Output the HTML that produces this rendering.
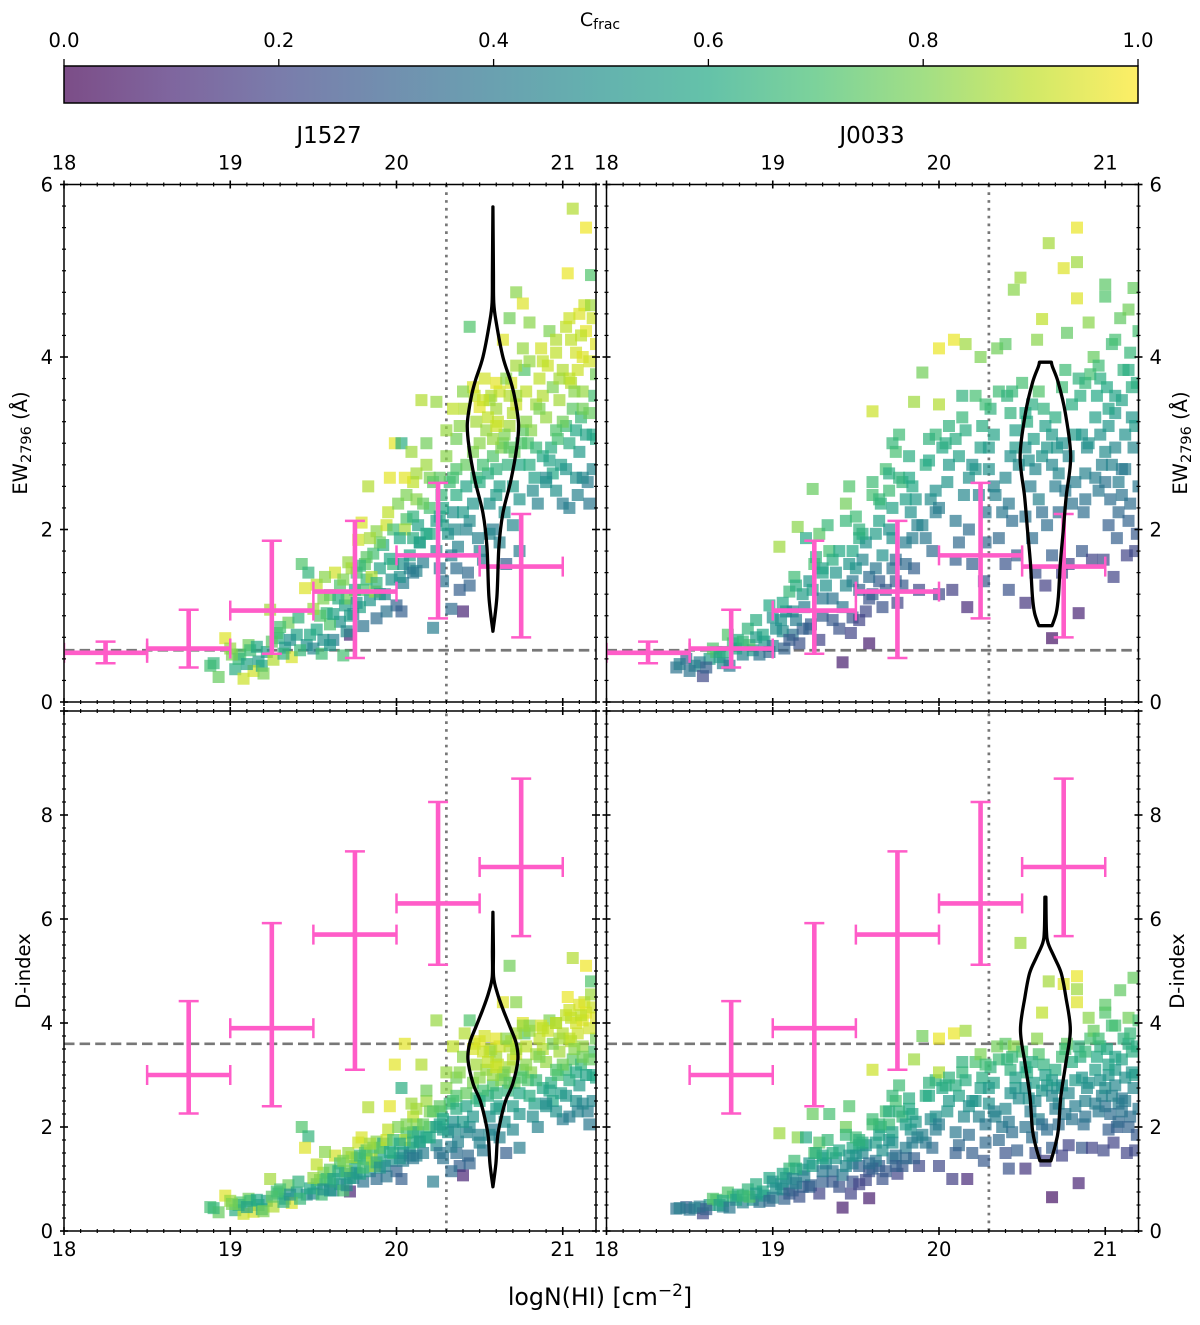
<!DOCTYPE html>
<html lang="en">
<head>
<meta charset="utf-8">
<title>EW and D-index vs logN(HI)</title>
<style>
html,body{margin:0;padding:0;background:#fff;}
svg{display:block;}
text{font-family:"DejaVu Sans","Liberation Sans",sans-serif;fill:#000;}
</style>
</head>
<body>
<svg id="figure" xmlns="http://www.w3.org/2000/svg" width="1200" height="1325" viewBox="0 0 1200 1325">
<defs>
<linearGradient id="viridis-gradient" x1="0" x2="1" y1="0" y2="0">
<stop offset="0" stop-color="#440154" stop-opacity=".7"/>
<stop offset=".1" stop-color="#482475" stop-opacity=".7"/>
<stop offset=".2" stop-color="#414487" stop-opacity=".7"/>
<stop offset=".3" stop-color="#355f8d" stop-opacity=".7"/>
<stop offset=".4" stop-color="#2a788e" stop-opacity=".7"/>
<stop offset=".5" stop-color="#21918c" stop-opacity=".7"/>
<stop offset=".6" stop-color="#22a884" stop-opacity=".7"/>
<stop offset=".7" stop-color="#44bf70" stop-opacity=".7"/>
<stop offset=".8" stop-color="#7ad151" stop-opacity=".7"/>
<stop offset=".9" stop-color="#bddf26" stop-opacity=".7"/>
<stop offset="1" stop-color="#fde725" stop-opacity=".7"/>
</linearGradient>
<clipPath id="clip-left-top"><rect x="64" y="184.5" width="532" height="517.5"/></clipPath>
<clipPath id="clip-right-top"><rect x="606.5" y="184.5" width="532" height="517.5"/></clipPath>
<clipPath id="clip-left-bottom"><rect x="64" y="711" width="532" height="520"/></clipPath>
<clipPath id="clip-right-bottom"><rect x="606.5" y="711" width="532" height="520"/></clipPath>
</defs>
<text x="600" y="26" font-size="19" text-anchor="middle">C<tspan font-size="14" dy="3">frac</tspan></text>
<rect x="64" y="66" width="1074" height="37" fill="url(#viridis-gradient)" stroke="#000" stroke-width="1.5"/>
<g id="colorbar-ticks"></g>
<text x="329" y="143" font-size="23" text-anchor="middle">J1527</text>
<text x="872" y="143" font-size="23" text-anchor="middle">J0033</text>
<g id="panels"></g>
<text x="600" y="1305" font-size="23.7" text-anchor="middle">logN(HI) [cm<tspan font-size="17" dy="-9">−2</tspan><tspan dy="9">]</tspan></text>
<text transform="translate(27,443) rotate(-90)" font-size="19.5" text-anchor="middle">EW<tspan font-size="14.5" dy="4">2796</tspan><tspan dy="-4"> (Å)</tspan></text>
<text transform="translate(30,971) rotate(-90)" font-size="19.5" text-anchor="middle">D-index</text>
<text transform="translate(1187,443) rotate(-90)" font-size="19.5" text-anchor="middle">EW<tspan font-size="14.5" dy="4">2796</tspan><tspan dy="-4"> (Å)</tspan></text>
<text transform="translate(1184,971) rotate(-90)" font-size="19.5" text-anchor="middle">D-index</text>
</svg>
<script>
const colorbarTicks = [0.0, 0.2, 0.4, 0.6, 0.8, 1.0];
const xMajorTicks = [18, 19, 20, 21];
const ewMajorTicks = [0, 2, 4, 6];
const dMajorTicks = [0, 2, 4, 6, 8];
const ewReference = 0.6;
const dReference = 3.6;
const logNReference = 20.3;

const ewBinCenters = [18.25, 18.75, 19.25, 19.75, 20.25, 20.75];
const ewBinValues = [0.57, 0.62, 1.06, 1.28, 1.70, 1.57];
const ewBinUpper = [0.70, 1.07, 1.87, 2.10, 2.54, 2.18];
const ewBinLower = [0.45, 0.40, 0.56, 0.51, 0.97, 0.75];
const dBinCenters = [18.75, 19.25, 19.75, 20.25, 20.75];
const dBinValues = [3.0, 3.9, 5.7, 6.3, 7.0];
const dBinUpper = [4.42, 5.92, 7.3, 8.25, 8.7];
const dBinLower = [2.26, 2.40, 3.1, 5.12, 5.67];
const binHalfWidth = 0.25;

const violinJ1527EwCenter = 20.58;
const violinJ1527EwLevels = [0.82, 1.22, 1.8, 2.19, 2.57, 2.96, 3.23, 3.54, 3.73, 4.0, 4.4, 4.63, 5.0, 5.74];
const violinJ1527EwWidths = [0, 0.024, 0.036, 0.06, 0.108, 0.144, 0.154, 0.13, 0.105, 0.06, 0.02, 0.005, 0.003, 0];
const violinJ1527DCenter = 20.58;
const violinJ1527DLevels = [0.85, 1.3, 1.81, 2.2, 2.52, 2.84, 3.29, 3.61, 3.93, 4.25, 4.57, 4.89, 5.4, 6.13];
const violinJ1527DWidths = [0, 0.018, 0.028, 0.051, 0.078, 0.12, 0.15, 0.14, 0.102, 0.062, 0.027, 0.004, 0.003, 0];
const violinJ0033EwCenter = 20.64;
const violinJ0033EwLevels = [0.885, 1.03, 1.22, 1.61, 2.0, 2.38, 2.85, 3.35, 3.7, 3.89, 3.94];
const violinJ0033EwWidths = [0.04, 0.065, 0.078, 0.09, 0.108, 0.125, 0.152, 0.12, 0.078, 0.042, 0.036];
const violinJ0033DCenter = 20.64;
const violinJ0033DLevels = [1.35, 1.63, 1.95, 2.59, 3.23, 3.87, 4.5, 4.96, 5.27, 5.54, 5.79, 6.42];
const violinJ0033DWidths = [0.033, 0.058, 0.078, 0.093, 0.123, 0.15, 0.123, 0.095, 0.053, 0.016, 0.006, 0.003];

const j1527LogN = [
18.88,19.03,18.93,19.11,18.97,19.17,19.06,18.9,19.14,19.0,
19.22,19.08,19.29,19.19,19.35,19.26,19.12,19.33,19.24,19.4,
19.37,19.46,19.3,19.43,19.52,19.41,19.47,19.45,19.56,19.5,
19.58,19.62,19.52,19.66,19.6,19.55,19.69,19.63,19.57,19.72,
19.75,19.68,19.8,19.71,19.84,19.77,19.66,19.82,19.74,19.88,
19.86,19.79,19.93,19.9,19.83,19.97,19.88,19.81,19.95,20.0,
19.92,20.04,19.96,20.08,20.01,20.12,19.99,20.06,20.14,20.03,
20.03,20.1,20.16,20.05,20.2,20.13,20.24,20.18,20.09,20.28,
20.22,20.31,20.15,20.27,20.36,20.24,20.3,20.38,20.26,20.34,
20.4,20.33,20.42,20.37,20.46,20.32,20.44,20.41,20.48,20.36,
20.44,20.52,20.47,20.56,20.5,20.43,20.58,20.54,20.49,20.6,
20.55,20.62,20.5,20.66,20.6,20.53,20.68,20.64,20.57,20.7,
20.63,20.7,20.58,20.74,20.67,20.61,20.77,20.65,20.72,20.68,
20.74,20.81,20.71,20.85,20.78,20.69,20.83,20.76,20.88,20.8,
20.9,20.82,20.94,20.86,20.98,20.92,20.79,21.0,20.87,20.96,
21.0,20.93,21.04,20.97,21.08,20.91,21.02,21.06,20.99,21.1,
21.06,21.12,21.03,21.16,21.09,21.14,21.05,21.18,21.11,21.2,
21.13,21.17,21.08,21.19,21.15,21.02,21.1,21.17,21.05,21.2,
20.46,20.56,20.64,20.72,20.52,20.6,20.68,20.76,20.48,20.84,
20.96,20.88,21.04,21.12,20.94,21.0,21.16,20.9,21.08,21.14,
19.7,19.76,19.85,19.9,19.98,20.05,20.12,20.2,20.28,20.36,
19.6,19.78,19.87,19.94,20.02,20.1,20.18,20.26,20.34,20.42,
19.05,19.16,19.25,19.32,19.1,19.2,19.28,19.36,19.42,19.01,
19.48,19.54,19.6,19.65,19.7,19.73,19.5,19.56,19.62,19.68,
19.76,19.82,19.88,19.94,19.72,19.78,19.84,19.9,19.96,19.8,
19.98,20.04,20.1,20.16,20.02,20.08,20.14,20.2,20.06,20.12,
20.22,20.28,20.34,20.4,20.24,20.3,20.36,20.42,20.46,20.38,
20.5,20.55,20.6,20.65,20.7,20.75,20.52,20.58,20.62,20.68,
20.72,20.78,20.84,20.9,20.96,20.74,20.8,20.86,20.92,20.98,
21.02,21.07,21.12,21.16,21.2,21.04,21.09,21.14,21.18,21.11,
20.18,20.1,20.26,20.33,20.44,20.5,20.56,20.62,20.4,20.35,
20.66,20.72,20.8,20.88,20.96,21.04,21.12,21.18,20.6,20.76
];
const j1527Ew = [
.42,.38,.29,.66,.74,.47,.55,.45,.36,.62,
.58,.27,.74,.42,.92,.49,.6,.63,1.07,.78,
.52,.66,.87,1.6,.84,.98,1.5,1.32,1.2,.62,
1.03,.72,1.36,.93,1.24,.56,1.12,1.5,1.45,.78,
1.3,.54,.88,1.62,1.18,1.88,1.35,1.42,1.02,.97,
1.72,2.08,1.25,1.55,2.5,1.42,1.98,1.6,2.2,1.12,
1.82,1.38,2.6,1.7,2.3,1.52,3.0,2.12,1.85,1.05,
3.0,2.55,1.62,2.6,2.25,2.05,1.75,2.75,2.9,1.4,
.86,1.95,3.5,2.4,1.55,3.48,2.85,1.3,2.15,3.4,
1.05,1.08,2.5,1.8,2.9,2.55,2.1,3.4,3.25,3.05,
4.35,1.65,3.55,2.3,3.42,1.5,2.85,3.15,1.9,3.4,
2.65,3.6,3.0,1.6,2.4,3.75,3.2,4.2,3.55,2.05,
2.95,3.35,2.0,1.75,2.75,3.25,3.85,2.2,4.75,4.45,
2.35,3.15,2.9,2.3,3.6,3.7,2.6,4.62,2.85,4.4,
3.3,2.45,2.65,3.75,3.5,4.3,3.0,2.3,4.1,2.45,
3.85,2.95,2.25,3.05,2.6,3.9,4.35,3.4,2.75,2.9,
5.72,3.6,4.97,2.3,3.85,5.5,4.2,3.1,3.3,4.15,
4.6,4.95,4.05,3.55,2.55,3.2,4.5,4.6,3.7,3.8,
3.65,3.5,3.0,3.45,2.75,3.7,3.55,3.15,2.6,3.45,
4.05,3.55,3.75,4.0,3.65,3.25,3.95,2.6,3.15,4.3,
1.2,1.5,1.45,1.85,1.6,2.0,2.35,2.6,2.05,2.7,
.9,1.1,1.28,2.05,1.45,1.9,1.95,2.6,2.2,2.0,
.5,.64,.7,.56,.44,.33,.8,.72,.6,.55,
.78,1.0,.66,1.2,.82,1.55,1.08,.72,1.02,1.42,
1.15,1.68,1.38,1.05,1.0,1.58,1.9,1.25,1.66,1.3,
2.0,1.6,2.15,2.3,1.9,1.55,1.85,1.95,2.4,2.65,
2.55,2.25,2.6,2.2,2.1,3.15,2.4,2.75,2.3,3.2,
2.55,3.3,2.7,3.1,2.5,3.0,3.5,3.05,2.5,2.95,
3.9,3.25,2.95,2.55,3.15,2.75,2.75,3.4,2.8,3.75,
2.7,3.6,2.6,3.35,3.05,3.0,2.4,3.1,4.45,4.25,
3.0,1.5,1.55,1.7,1.35,1.75,1.95,1.85,3.6,2.0,
3.75,3.55,3.95,3.95,4.2,4.45,3.4,2.7,3.2,4.1
];
const j1527D = [
.46,.4,.36,.62,.68,.5,.55,.44,.37,.58,
.58,.33,.72,.42,.88,.47,.58,.62,1.0,.74,
.54,.7,.8,2.0,.9,.95,1.82,1.6,1.12,.72,
1.0,.78,1.28,.9,1.18,.7,1.1,1.45,1.52,.76,
1.25,.78,.95,1.5,1.15,1.7,1.3,1.38,1.02,1.0,
1.6,1.8,1.25,1.45,2.38,1.35,1.72,1.5,1.95,1.15,
1.68,1.35,2.4,1.6,2.0,1.45,3.2,1.88,1.72,1.0,
2.75,2.2,1.5,3.6,2.0,1.9,1.65,2.5,2.45,1.4,
.95,1.9,3.2,2.3,1.5,4.05,2.75,1.25,2.05,3.55,
1.07,1.15,2.4,1.72,2.85,2.45,2.0,3.8,3.2,2.95,
4.05,1.55,3.6,2.2,3.65,1.45,2.8,3.1,1.85,3.35,
2.6,3.55,2.95,1.5,2.35,3.75,3.15,4.4,3.5,1.95,
2.9,3.3,1.95,1.6,2.7,3.2,3.8,2.1,4.4,5.1,
2.25,3.05,2.85,2.0,3.55,3.65,2.45,4.0,2.75,3.95,
3.25,2.2,2.5,3.7,3.45,4.05,2.9,2.15,3.95,2.3,
3.8,2.85,2.2,3.0,2.5,3.85,4.15,3.3,2.65,2.8,
5.25,3.55,4.5,2.05,3.8,5.1,4.1,3.0,3.2,4.1,
4.4,4.8,4.0,3.45,2.3,3.1,4.35,4.55,3.65,3.7,
3.5,3.45,3.0,3.4,2.7,3.7,3.55,3.1,2.55,3.4,
4.0,3.5,3.7,4.05,3.6,3.2,3.9,2.45,3.05,4.2,
1.15,1.4,1.38,1.6,1.5,1.75,2.05,2.3,1.95,2.6,
.95,1.1,1.25,1.75,1.4,1.7,1.8,2.4,2.1,1.9,
.5,.6,.66,.56,.46,.38,.76,.7,.62,.52,
.82,.98,.78,1.15,.88,1.42,1.02,.8,1.0,1.35,
1.12,1.55,1.32,1.05,1.02,1.45,1.68,1.22,1.52,1.22,
1.75,1.5,1.9,2.05,1.68,1.45,1.72,1.8,2.05,2.35,
2.3,2.15,2.5,2.1,2.0,3.05,2.35,2.65,2.2,3.05,
2.5,3.25,2.65,3.05,2.4,2.95,3.45,3.0,2.4,2.85,
3.8,3.2,2.9,2.4,3.1,2.65,2.6,3.35,2.7,3.7,
2.6,3.5,2.45,3.3,2.95,2.9,2.3,3.0,4.3,4.15,
2.7,1.4,1.5,1.62,1.3,1.7,1.85,1.8,3.35,1.95,
3.7,3.5,3.85,3.9,4.0,4.25,3.35,2.5,3.15,3.95
];
const j1527Cfrac = [
.7,.62,.76,.78,.95,.55,.72,.66,.93,.84,
.56,.92,.62,.6,.78,.88,.68,.54,.86,.58,
.94,.5,.7,.72,.6,.64,.65,.95,.8,.46,
.66,.42,.9,.5,.76,.68,.56,.93,.82,.1,
.6,.7,.38,.84,.52,.92,.72,.66,.46,.35,
.7,.94,.45,.58,.88,.5,.82,.74,.9,.32,
.62,.42,.96,.56,.8,.45,.96,.72,.58,.3,
.62,.9,.42,.96,.7,.58,.48,.85,.85,.38,
.42,.52,.88,.66,.36,.84,.82,.3,.58,.9,
.1,.35,.58,.44,.8,.68,.48,.88,.86,.78,
.72,.4,.9,.5,.96,.34,.72,.84,.44,.86,
.62,.92,.82,.3,.55,.93,.86,.95,.88,.46,
.8,.88,.42,.42,.64,.9,.72,.5,.82,.78,
.52,.82,.76,.44,.9,.94,.56,.95,.6,.82,
.84,.48,.6,.9,.86,.8,.72,.42,.93,.5,
.88,.62,.42,.7,.5,.92,.9,.74,.56,.54,
.88,.84,.97,.4,.92,.98,.9,.6,.66,.95,
.92,.72,.93,.7,.42,.68,.95,.85,.88,.78,
.94,.85,.78,.92,.7,.96,.88,.74,.66,.85,
.9,.88,.9,.95,.8,.78,.93,.48,.6,.96,
.78,.7,.88,.76,.66,.86,.82,.8,.55,.72,
.72,.58,.85,.92,.5,.62,.6,.75,.5,.45,
.66,.6,.74,.64,.58,.8,.7,.5,.66,.8,
.6,.72,.52,.62,.48,.86,.84,.5,.58,.8,
.52,.74,.64,.38,.55,.66,.86,.5,.6,.7,
.7,.5,.64,.76,.6,.44,.56,.6,.8,.86,
.74,.6,.7,.54,.56,.84,.62,.76,.52,.82,
.62,.9,.64,.8,.55,.72,.92,.84,.56,.74,
.86,.82,.66,.5,.72,.6,.62,.8,.58,.86,
.52,.82,.46,.76,.6,.62,.44,.58,.92,.9,
.78,.4,.38,.42,.32,.44,.46,.44,.82,.48,
.82,.86,.84,.9,.88,.92,.78,.46,.92,.84
];

const j0033LogN = [
18.42,18.48,18.44,18.53,18.58,18.5,18.62,18.56,18.66,18.6,
18.7,18.64,18.76,18.68,18.82,18.73,18.88,18.79,18.85,18.92,
18.95,19.02,18.9,19.07,18.98,19.04,19.12,19.0,19.1,19.16,
19.15,19.2,19.08,19.23,19.13,19.18,19.28,19.25,19.19,19.32,
19.24,19.34,19.3,19.42,19.36,19.28,19.4,19.33,19.38,19.44,
19.46,19.52,19.48,19.58,19.5,19.56,19.47,19.6,19.54,19.6,
19.62,19.68,19.58,19.72,19.65,19.75,19.7,19.64,19.78,19.66,
19.8,19.74,19.88,19.83,19.76,19.9,19.85,19.92,19.78,19.95,
19.85,20.0,19.96,20.05,19.98,20.08,20.0,20.02,20.1,20.0,
20.09,20.16,20.12,20.17,20.2,20.14,20.24,20.22,20.18,20.27,
20.25,20.3,20.35,20.28,20.4,20.33,20.38,20.26,20.42,20.36,
20.45,20.49,20.4,20.47,20.43,20.52,20.46,20.55,20.44,20.5,
20.58,20.53,20.62,20.56,20.6,20.54,20.64,20.66,20.57,20.62,
20.68,20.6,20.7,20.65,20.72,20.59,20.74,20.68,20.75,20.63,
20.78,20.71,20.83,20.77,20.83,20.8,20.76,20.83,20.82,20.74,
20.84,20.88,20.86,20.9,20.85,20.92,20.87,20.94,20.89,20.91,
20.96,20.93,20.99,20.95,21.0,21.0,20.97,21.02,20.98,21.01,
21.05,21.02,21.08,21.04,21.1,21.07,21.03,21.09,21.06,21.11,
21.13,21.16,21.12,21.17,21.15,21.14,21.18,21.19,21.17,21.2,
19.7,19.82,19.94,20.06,20.15,20.25,20.33,20.41,20.52,20.65,
19.52,19.62,19.72,19.8,19.87,19.98,20.1,20.2,20.31,20.43,
20.68,20.78,20.86,20.97,21.06,21.14,20.72,20.88,21.0,21.1,
19.05,19.14,19.22,19.3,19.4,19.48,19.56,19.64,19.74,19.84,
18.7,18.78,18.86,18.94,19.0,18.74,18.82,18.9,18.98,19.06,
19.06,19.12,19.18,19.24,19.3,19.36,19.42,19.48,19.1,19.26,
19.44,19.5,19.54,19.6,19.66,19.72,19.46,19.52,19.58,19.64,
19.68,19.74,19.8,19.86,19.92,19.98,19.7,19.76,19.84,19.9,
19.94,20.0,20.06,20.12,20.18,20.04,20.1,20.16,20.22,20.28,
20.3,20.36,20.42,20.48,20.34,20.4,20.46,20.52,20.28,20.44,
20.52,20.58,20.64,20.7,20.76,20.56,20.62,20.68,20.74,20.8,
20.82,20.88,20.94,21.0,21.06,20.84,20.9,20.96,21.02,21.08,
21.12,21.16,21.2,21.14,21.18,21.1,21.06,21.15,21.04,21.19,
19.36,19.3,19.22,19.14,19.44,19.52,19.6,19.72,19.82,20.14
];
const j0033Ew = [
.4,.5,.44,.42,.3,.36,.5,.46,.58,.4,
.45,.62,.68,.52,.55,.78,.6,.72,.85,.55,
.7,.85,.95,.62,1.12,1.8,.78,.98,1.28,.68,
2.03,1.9,1.05,.9,1.45,1.25,.72,1.6,1.1,1.35,
2.47,1.75,1.0,.46,1.2,1.95,.85,2.05,1.5,2.3,
2.5,1.3,1.75,.68,2.15,1.05,.8,3.37,1.65,2.4,
1.95,2.7,1.2,1.55,2.3,1.15,2.0,1.4,2.55,1.1,
1.85,2.9,1.3,2.2,3.1,3.82,1.55,2.75,1.35,2.35,
3.48,1.25,1.75,2.55,3.1,1.3,4.1,2.95,2.1,3.45,
4.2,4.15,2.85,1.1,1.6,3.3,2.4,3.55,2.0,1.4,
4.0,2.7,4.1,1.85,4.15,3.1,2.2,3.2,1.3,3.6,
4.78,4.92,2.6,1.7,3.35,1.15,2.95,2.5,2.1,3.7,
1.5,3.25,2.85,1.9,3.6,2.8,1.35,5.32,3.05,4.44,
.74,2.35,3.3,2.05,2.65,4.2,3.65,1.7,5.03,3.4,
1.6,2.95,4.68,4.28,5.5,2.3,3.85,5.1,3.1,1.5,
1.03,2.65,1.75,4.4,3.55,1.65,2.2,3.3,2.95,3.8,
2.45,4.0,1.65,3.55,4.7,4.84,3.1,2.05,2.75,3.65,
1.45,3.2,2.55,4.15,3.5,1.9,2.35,4.45,2.95,3.85,
1.7,3.3,2.7,4.8,2.3,4.55,1.75,3.7,2.95,4.3,
2.45,2.6,3.05,2.75,2.4,2.95,2.5,3.55,3.35,2.95,
1.9,1.55,2.25,2.35,2.05,2.2,3.05,2.75,3.4,2.85,
3.1,2.85,3.1,3.75,3.35,3.85,2.2,3.7,2.55,2.7,
.95,1.35,1.4,1.55,1.75,1.4,1.85,2.1,1.65,2.5,
.58,.62,.66,.78,.65,.42,.7,.75,.58,.82,
1.15,1.05,.85,1.3,1.5,.95,1.1,.98,.72,1.68,
1.35,1.55,1.95,1.25,1.7,1.9,1.6,2.0,1.45,2.35,
1.3,1.4,1.6,2.35,1.9,2.45,2.65,2.6,1.9,2.05,
2.8,2.25,3.2,1.85,2.6,3.0,1.65,3.15,2.7,3.45,
2.95,1.9,2.3,2.75,2.4,1.6,3.15,2.15,2.2,3.6,
2.95,2.7,3.2,2.5,2.45,3.45,2.2,2.75,3.0,3.45,
2.55,2.35,2.6,2.9,3.55,3.75,3.0,3.9,3.4,2.2,
3.1,3.65,2.5,2.1,3.2,2.4,4.2,4.05,2.75,1.95,
1.65,1.2,.85,.95,2.1,.95,2.55,3.0,2.85,3.55
];
const j0033D = [
.43,.46,.44,.44,.34,.41,.5,.47,.6,.42,
.47,.62,.66,.5,.55,.74,.6,.7,.8,.56,
.68,.82,.9,.62,1.02,1.88,.78,.95,1.2,.66,
1.8,1.8,1.02,.88,1.35,1.18,.72,1.5,1.05,1.3,
2.25,2.25,.95,.45,1.15,1.7,.85,1.75,1.4,2.0,
2.4,1.25,1.6,.63,1.8,.98,.72,3.1,1.5,2.05,
1.7,2.3,1.15,1.4,2.0,1.1,1.75,1.25,2.2,1.0,
1.6,2.5,1.25,1.95,2.8,3.75,1.4,2.6,1.25,2.15,
3.3,1.25,1.6,2.3,2.9,1.0,3.7,2.75,1.9,3.05,
3.8,3.85,2.6,1.0,1.5,3.05,2.2,3.25,1.85,1.35,
3.4,2.45,3.55,1.7,3.6,2.85,2.0,2.95,1.2,3.3,
3.55,5.54,2.35,1.55,3.1,1.2,2.75,2.3,1.9,3.45,
1.5,3.05,2.7,1.8,3.4,2.55,1.35,4.8,2.85,4.2,
.65,2.15,3.1,1.95,2.45,3.7,3.35,1.6,4.75,3.2,
1.65,2.75,4.4,3.6,4.9,2.15,3.5,4.65,2.9,1.45,
.92,2.5,1.6,4.1,3.35,1.6,2.05,3.1,2.75,3.7,
2.3,3.85,1.55,3.35,4.2,4.35,2.9,1.95,2.6,3.5,
1.7,3.0,2.45,3.95,3.3,2.0,2.25,4.63,2.8,3.7,
1.5,3.05,2.5,4.87,2.2,4.1,1.55,3.55,2.75,4.05,
2.05,2.35,2.85,2.5,2.2,2.75,2.3,3.3,3.15,2.8,
1.65,1.35,1.9,2.05,1.8,1.95,2.8,2.5,3.15,2.65,
2.9,2.65,2.95,3.55,3.1,3.6,2.05,3.45,2.4,2.55,
.9,1.2,1.3,1.45,1.55,1.3,1.65,1.85,1.45,2.25,
.58,.6,.66,.76,.64,.45,.68,.72,.58,.8,
1.1,1.0,.85,1.25,1.4,.95,1.08,.95,.72,1.5,
1.25,1.45,1.7,1.2,1.55,1.7,1.45,1.75,1.3,2.05,
1.15,1.25,1.4,2.1,1.7,2.2,2.3,2.3,1.7,1.85,
2.6,2.05,2.95,1.65,2.4,2.8,1.5,2.9,2.5,3.2,
2.75,1.75,2.1,2.55,2.2,1.5,2.95,2.0,2.05,3.35,
2.75,2.5,3.0,2.35,2.25,3.25,2.05,2.6,2.8,3.25,
2.4,2.2,2.45,2.75,3.35,3.55,2.85,3.7,3.2,2.1,
2.95,3.45,2.35,2.0,3.0,2.3,3.95,3.8,2.6,1.85,
1.5,1.15,.85,.92,1.85,.9,2.15,2.6,2.55,3.25
];
const j0033Cfrac = [
.38,.3,.42,.45,.22,.38,.55,.42,.7,.3,
.45,.72,.66,.55,.44,.72,.52,.62,.65,.38,
.52,.5,.62,.32,.6,.85,.38,.5,.66,.25,
.82,.6,.45,.3,.68,.55,.2,.7,.42,.5,
.76,.7,.3,.08,.38,.74,.25,.66,.52,.78,
.72,.32,.6,.08,.68,.22,.2,.92,.46,.7,
.55,.7,.25,.38,.62,.2,.5,.3,.66,.25,
.42,.7,.22,.5,.68,.78,.3,.62,.28,.48,
.85,.22,.35,.52,.66,.18,.97,.6,.4,.88,
.97,.85,.58,.12,.3,.66,.44,.7,.36,.28,
.8,.5,.78,.34,.74,.58,.4,.62,.25,.68,
.82,.85,.46,.3,.64,.15,.54,.42,.36,.7,
.25,.62,.52,.36,.72,.5,.18,.86,.56,.9,
.05,.44,.62,.36,.46,.82,.68,.3,.95,.64,
.2,.52,.95,.75,.97,.38,.68,.85,.54,.2,
.1,.44,.28,.82,.62,.2,.36,.56,.48,.7,
.4,.76,.22,.6,.72,.74,.5,.3,.44,.6,
.2,.52,.42,.68,.58,.3,.36,.75,.46,.64,
.2,.52,.42,.76,.36,.78,.22,.62,.46,.7,
.68,.6,.64,.54,.46,.56,.44,.64,.6,.52,
.62,.4,.58,.56,.44,.42,.62,.5,.64,.5,
.54,.46,.52,.62,.54,.62,.36,.66,.38,.4,
.5,.62,.52,.58,.6,.4,.5,.58,.36,.6,
.62,.58,.72,.6,.42,.4,.66,.55,.34,.48,
.6,.48,.3,.56,.58,.28,.4,.26,.28,.64,
.46,.5,.62,.3,.5,.5,.52,.64,.36,.66,
.28,.3,.34,.54,.4,.5,.62,.64,.42,.44,
.6,.42,.64,.34,.5,.62,.3,.62,.52,.68,
.54,.34,.4,.48,.44,.26,.56,.38,.4,.66,
.5,.46,.56,.42,.4,.62,.36,.46,.5,.62,
.42,.38,.42,.48,.58,.64,.5,.68,.58,.34,
.5,.62,.4,.32,.54,.38,.7,.66,.44,.28,
.62,.4,.3,.42,.66,.2,.68,.66,.62,.64
];

const viridisStops = [[68,1,84],[72,36,117],[65,68,135],[53,95,141],[42,120,142],[33,145,140],[34,168,132],[68,191,112],[122,209,81],[189,223,38],[253,231,37]];
const SVG_NS = 'http://www.w3.org/2000/svg';
const xMin = 18, xMax = 21.2;

function viridis(c) {
  const t = Math.max(0, Math.min(1, c)) * 10;
  const i = Math.min(9, Math.floor(t));
  const f = t - i;
  const a = viridisStops[i], b = viridisStops[i + 1];
  return 'rgb(' + Math.round(a[0] + (b[0] - a[0]) * f) + ',' + Math.round(a[1] + (b[1] - a[1]) * f) + ',' + Math.round(a[2] + (b[2] - a[2]) * f) + ')';
}
function line(parent, x1, y1, x2, y2, stroke, width, dash) {
  const el = document.createElementNS(SVG_NS, 'line');
  el.setAttribute('x1', x1);
  el.setAttribute('y1', y1);
  el.setAttribute('x2', x2);
  el.setAttribute('y2', y2);
  el.setAttribute('stroke', stroke);
  el.setAttribute('stroke-width', width);
  if (dash) el.setAttribute('stroke-dasharray', dash);
  parent.appendChild(el);
  return el;
}
function label(parent, x, y, str, anchor, size) {
  const el = document.createElementNS(SVG_NS, 'text');
  el.setAttribute('x', x);
  el.setAttribute('y', y);
  el.setAttribute('text-anchor', anchor);
  el.setAttribute('font-size', size);
  el.textContent = str;
  parent.appendChild(el);
  return el;
}
function group(parent, clip) {
  const el = document.createElementNS(SVG_NS, 'g');
  if (clip) el.setAttribute('clip-path', 'url(#' + clip + ')');
  parent.appendChild(el);
  return el;
}
function smoothSide(pts) {
  let d = '';
  for (let i = 0; i < pts.length - 1; i++) {
    const p0 = pts[Math.max(0, i - 1)], p1 = pts[i], p2 = pts[i + 1], p3 = pts[Math.min(pts.length - 1, i + 2)];
    const c1x = p1[0] + (p2[0] - p0[0]) / 6, c1y = p1[1] + (p2[1] - p0[1]) / 6;
    const c2x = p2[0] - (p3[0] - p1[0]) / 6, c2y = p2[1] - (p3[1] - p1[1]) / 6;
    d += 'C' + c1x.toFixed(2) + ' ' + c1y.toFixed(2) + ' ' + c2x.toFixed(2) + ' ' + c2y.toFixed(2) + ' ' + p2[0].toFixed(2) + ' ' + p2[1].toFixed(2);
  }
  return d;
}

function drawPanel(cfg) {
  const root = document.getElementById('panels');
  const panel = group(root);
  
  
  const xScale = v => cfg.left + (v - xMin) / (xMax - xMin) * (cfg.right - cfg.left);
  const yScale = v => cfg.bottom - v / cfg.yMax * (cfg.bottom - cfg.top);

  const inner = group(panel, cfg.clip);
  const hRef = line(inner, cfg.left, yScale(cfg.reference), cfg.right, yScale(cfg.reference), '#777', 2.7, '10.5 5.1');
  
  
  const vRef = line(inner, xScale(logNReference), cfg.bottom, xScale(logNReference), cfg.top, '#777', 2.7, '2.7 5.1');
  
  

  cfg.xs.forEach(function (x, i) {
    const el = document.createElementNS(SVG_NS, 'rect');
    
    
    el.setAttribute('x', xScale(x) - 6);
    el.setAttribute('y', yScale(cfg.ys[i]) - 6);
    el.setAttribute('width', 12);
    el.setAttribute('height', 12);
    el.setAttribute('fill', viridis(cfg.cs[i]));
    el.setAttribute('fill-opacity', '0.7');
    inner.appendChild(el);
  });

  const pink = '#ff5cc8';
  cfg.binCenters.forEach(function (c, i) {
    const bar = group(inner);
    
    
    const yv = yScale(cfg.binValues[i]), yu = yScale(cfg.binUpper[i]), yl = yScale(cfg.binLower[i]);
    const xl = xScale(c - binHalfWidth), xr = xScale(c + binHalfWidth), xc = xScale(c);
    line(bar, xl, yv, xr, yv, pink, 4.6);
    line(bar, xc, yu, xc, yl, pink, 4.6);
    line(bar, xl, yv - 10, xl, yv + 10, pink, 2.5);
    line(bar, xr, yv - 10, xr, yv + 10, pink, 2.5);
    line(bar, xc - 10, yu, xc + 10, yu, pink, 2.5);
    line(bar, xc - 10, yl, xc + 10, yl, pink, 2.5);
  });

  const rightSide = cfg.violinLevels.map((lv, i) => [xScale(cfg.violinCenter + cfg.violinWidths[i]), yScale(lv)]);
  const leftSide = cfg.violinLevels.map((lv, i) => [xScale(cfg.violinCenter - cfg.violinWidths[i]), yScale(lv)]).reverse();
  const violin = document.createElementNS(SVG_NS, 'path');
  
  
  violin.setAttribute('d', 'M' + rightSide[0][0].toFixed(2) + ' ' + rightSide[0][1].toFixed(2) + smoothSide(rightSide) + 'L' + leftSide[0][0].toFixed(2) + ' ' + leftSide[0][1].toFixed(2) + smoothSide(leftSide) + 'Z');
  violin.setAttribute('fill', 'none');
  violin.setAttribute('stroke', '#000');
  violin.setAttribute('stroke-width', '3.3');
  violin.setAttribute('stroke-linejoin', 'round');
  inner.appendChild(violin);

  const axes = group(panel);
  
  
  const frame = document.createElementNS(SVG_NS, 'rect');
  
  
  frame.setAttribute('x', cfg.left);
  frame.setAttribute('y', cfg.top);
  frame.setAttribute('width', cfg.right - cfg.left);
  frame.setAttribute('height', cfg.bottom - cfg.top);
  frame.setAttribute('fill', 'none');
  frame.setAttribute('stroke', '#000');
  frame.setAttribute('stroke-width', '1.5');
  axes.appendChild(frame);

  for (let k = 0; k <= 32; k++) {
    const v = xMin + k / 10;
    const major = k % 10 === 0;
    const half = major ? 4 : 2;
    const w = major ? 1.6 : 1.2;
    const px = xScale(v);
    line(axes, px, cfg.top - half, px, cfg.top + half, '#000', w);
    line(axes, px, cfg.bottom - half, px, cfg.bottom + half, '#000', w);
  }
  const minorCount = Math.round(cfg.yMax / 0.25);
  for (let k = 0; k <= minorCount; k++) {
    const v = k * 0.25;
    const major = k % 8 === 0;
    const half = major ? 4 : 2;
    const w = major ? 1.6 : 1.2;
    const py = yScale(v);
    line(axes, cfg.left - half, py, cfg.left + half, py, '#000', w);
    line(axes, cfg.right - half, py, cfg.right + half, py, '#000', w);
  }
  const labelBaseline = cfg.xLabelsOnTop ? cfg.top - 15 : cfg.bottom + 25;
  xMajorTicks.forEach(function (t) {
    const el = label(axes, xScale(t), labelBaseline, String(t), 'middle', 19.5);
    
    
  });
  cfg.yTicks.forEach(function (t) {
    const px = cfg.yLabelsOnLeft ? cfg.left - 11 : cfg.right + 11;
    const el = label(axes, px, yScale(t) + 7, String(t), cfg.yLabelsOnLeft ? 'end' : 'start', 19.5);
    
    
  });
}

const cbLayer = document.getElementById('colorbar-ticks');
colorbarTicks.forEach(function (t) {
  const px = 64 + t * 1074;
  const tick = line(cbLayer, px, 59, px, 66, '#000', 1.3);
  
  
  const el = label(cbLayer, px, 47, t.toFixed(1), 'middle', 19.5);
  
  
});

const ewCommon = {yMax: 6, top: 184.5, bottom: 702, reference: ewReference, binCenters: ewBinCenters, binValues: ewBinValues, binUpper: ewBinUpper, binLower: ewBinLower, yTicks: ewMajorTicks, xLabelsOnTop: true};
const dCommon = {yMax: 10, top: 711, bottom: 1231, reference: dReference, binCenters: dBinCenters, binValues: dBinValues, binUpper: dBinUpper, binLower: dBinLower, yTicks: dMajorTicks, xLabelsOnTop: false};

drawPanel(Object.assign({}, ewCommon, {name: 'panel-j1527-ew', clip: 'clip-left-top', left: 64, right: 596, yLabelsOnLeft: true, xs: j1527LogN, ys: j1527Ew, cs: j1527Cfrac, violinCenter: violinJ1527EwCenter, violinLevels: violinJ1527EwLevels, violinWidths: violinJ1527EwWidths}));
drawPanel(Object.assign({}, ewCommon, {name: 'panel-j0033-ew', clip: 'clip-right-top', left: 606.5, right: 1138.5, yLabelsOnLeft: false, xs: j0033LogN, ys: j0033Ew, cs: j0033Cfrac, violinCenter: violinJ0033EwCenter, violinLevels: violinJ0033EwLevels, violinWidths: violinJ0033EwWidths}));
drawPanel(Object.assign({}, dCommon, {name: 'panel-j1527-d', clip: 'clip-left-bottom', left: 64, right: 596, yLabelsOnLeft: true, xs: j1527LogN, ys: j1527D, cs: j1527Cfrac, violinCenter: violinJ1527DCenter, violinLevels: violinJ1527DLevels, violinWidths: violinJ1527DWidths}));
drawPanel(Object.assign({}, dCommon, {name: 'panel-j0033-d', clip: 'clip-right-bottom', left: 606.5, right: 1138.5, yLabelsOnLeft: false, xs: j0033LogN, ys: j0033D, cs: j0033Cfrac, violinCenter: violinJ0033DCenter, violinLevels: violinJ0033DLevels, violinWidths: violinJ0033DWidths}));
</script>
</body>
</html>
